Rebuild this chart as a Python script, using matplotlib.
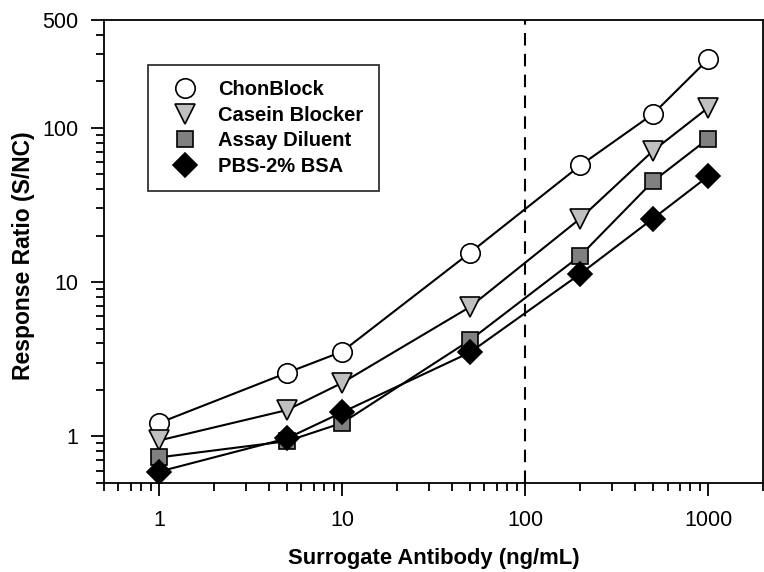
import numpy as np
import matplotlib.pyplot as plt
from matplotlib.ticker import FixedLocator, LogLocator, NullFormatter, FuncFormatter

plt.rcParams['font.family'] = ['Liberation Sans', 'DejaVu Sans']

conc = [1, 5, 10, 50, 200, 500, 1000]

chonblock = [1.22, 2.58, 3.54, 15.5, 57, 123, 278]
casein = [0.94, 1.48, 2.22, 6.9, 25.8, 71, 135]
assay = [0.73, 0.93, 1.22, 4.2, 14.8, 45, 85]
pbs = [0.59, 0.97, 1.43, 3.5, 11.3, 25.8, 48.5]

fig = plt.figure(figsize=(7.64, 5.72), dpi=100)
ax = fig.add_axes([0.136, 0.156, 0.863, 0.809])

ax.plot(conc, chonblock, '-o', color='black', lw=1.5, ms=14,
        mfc='white', mec='black', mew=1.2, label='ChonBlock')
ax.plot(conc, casein, '-v', color='black', lw=1.5, ms=14,
        mfc='#c0c0c0', mec='black', mew=1.2, label='Casein Blocker')
ax.plot(conc, assay, '-s', color='black', lw=1.5, ms=12,
        mfc='#808080', mec='black', mew=1.2, label='Assay Diluent')
ax.plot(conc, pbs, '-D', color='black', lw=1.5, ms=12,
        mfc='black', mec='black', mew=1.2, label='PBS-2% BSA')

ax.axvline(100, color='black', lw=1.5, ls=(0, (6, 4)))

ax.set_xscale('log')
ax.set_yscale('log')
ax.set_xlim(0.5, 2000)
ax.set_ylim(0.5, 500)

fmt = FuncFormatter(lambda v, p: '%g' % v)
ax.xaxis.set_major_locator(FixedLocator([1, 10, 100, 1000]))
ax.xaxis.set_major_formatter(fmt)
ax.xaxis.set_minor_locator(LogLocator(base=10, subs=np.arange(2, 10)))
ax.xaxis.set_minor_formatter(NullFormatter())
ax.yaxis.set_major_locator(FixedLocator([1, 10, 100, 500]))
ax.yaxis.set_major_formatter(fmt)
ax.yaxis.set_minor_locator(LogLocator(base=10, subs=np.arange(2, 10)))
ax.yaxis.set_minor_formatter(NullFormatter())

ax.tick_params(which='major', direction='out', length=9.5, width=1.3,
               labelsize=15.5, pad=9)
ax.tick_params(axis='x', which='major', pad=10)
ax.tick_params(which='minor', direction='out', length=6, width=1.3)
for s in ax.spines.values():
    s.set_linewidth(1.3)

ax.set_xlabel('Surrogate Antibody (ng/mL)', fontsize=15.8, fontweight='bold',
              labelpad=12)
ax.set_ylabel('Response Ratio (S/NC)', fontsize=16.5, fontweight='bold')
ax.yaxis.set_label_coords(-0.104, 0.49)

leg = ax.legend(loc='upper left', bbox_to_anchor=(0.0668, 0.903),
                frameon=True, fancybox=False, edgecolor='black',
                prop={'weight': 'bold', 'size': 14.5}, handlelength=2.2,
                borderpad=0.75, labelspacing=0.33, handletextpad=0.55,
                borderaxespad=0)
leg.get_frame().set_linewidth(1.3)
for h in leg.legend_handles:
    h.set_linestyle('None')

fig.savefig('out.png', dpi=100)
